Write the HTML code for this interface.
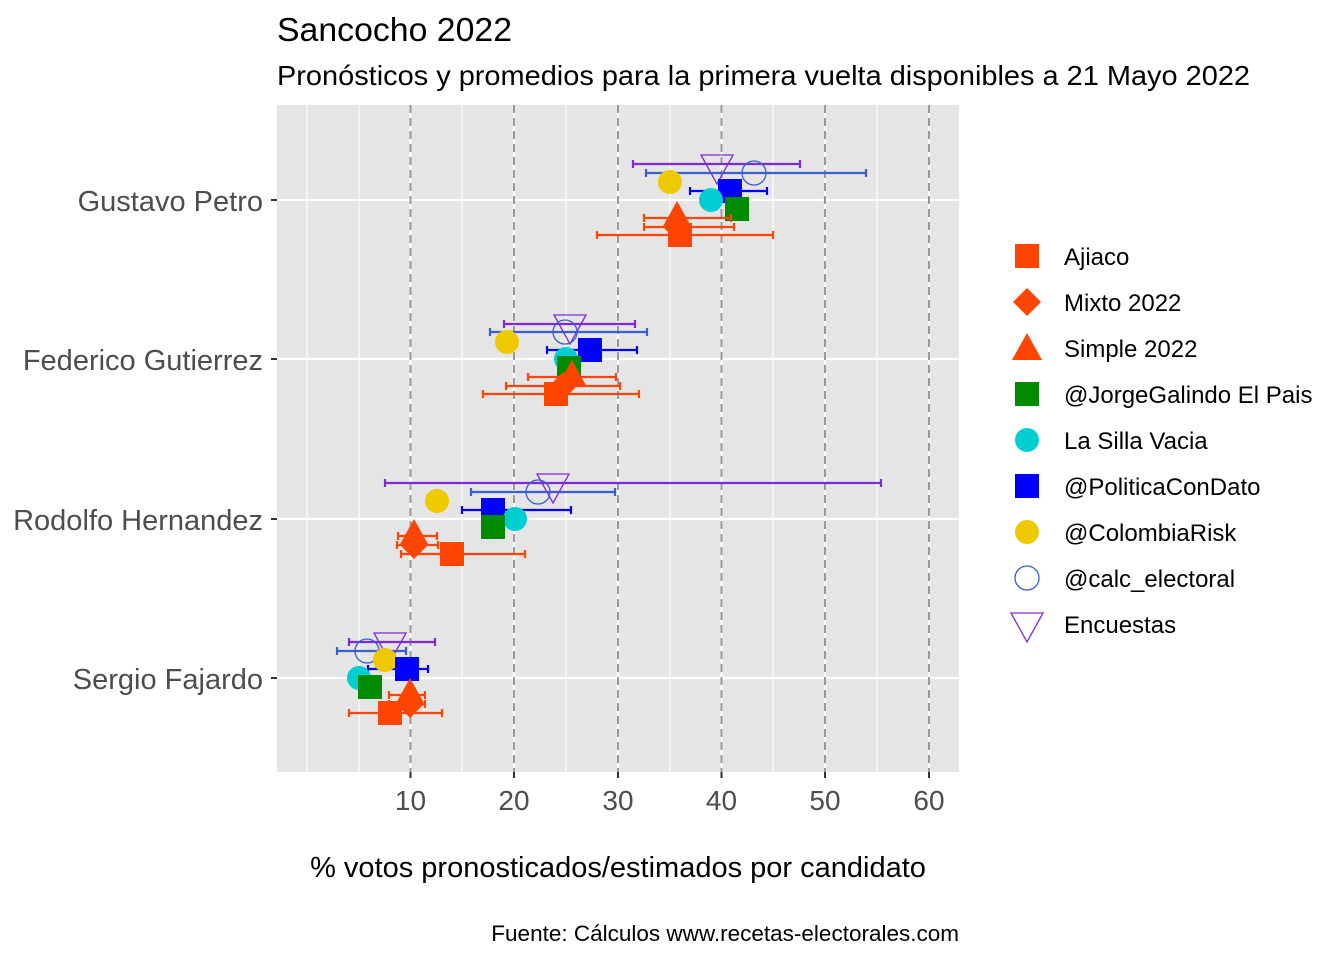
<!DOCTYPE html>
<html><head><meta charset="utf-8"><style>
body{margin:0;background:#fff}
svg text{font-family:"Liberation Sans",Arial,sans-serif}
</style></head><body>
<svg width="1344" height="960" xmlns="http://www.w3.org/2000/svg">
<defs>
<g id="sq"><rect x="-12" y="-12" width="24" height="24"/></g>
<g id="tri"><polygon points="0,-17 15,10 -15,10"/></g>
<g id="dia"><polygon points="0,-14 14,0 0,14 -14,0"/></g>
<g id="dtri"><polygon points="-16,-9 16,-9 0,20" fill="none" stroke="#7F2BD5" stroke-width="1.3"/></g>
</defs>
<text x="277" y="41" font-size="33" textLength="235" lengthAdjust="spacingAndGlyphs">Sancocho 2022</text>
<text x="277" y="85" font-size="28" textLength="973" lengthAdjust="spacingAndGlyphs">Pronósticos y promedios para la primera vuelta disponibles a 21 Mayo 2022</text>
<rect x="277" y="105" width="682" height="667" fill="#e5e5e5"/>
<g stroke="#fff" stroke-width="1.2">
<line x1="307" y1="105" x2="307" y2="772"/><line x1="359" y1="105" x2="359" y2="772"/>
<line x1="462" y1="105" x2="462" y2="772"/><line x1="566" y1="105" x2="566" y2="772"/>
<line x1="670" y1="105" x2="670" y2="772"/><line x1="773" y1="105" x2="773" y2="772"/>
<line x1="877" y1="105" x2="877" y2="772"/>
</g>
<g stroke="#fff" stroke-width="2.2">
<line x1="410.5" y1="105" x2="410.5" y2="772"/><line x1="514" y1="105" x2="514" y2="772"/>
<line x1="618" y1="105" x2="618" y2="772"/><line x1="721.5" y1="105" x2="721.5" y2="772"/>
<line x1="825" y1="105" x2="825" y2="772"/><line x1="929" y1="105" x2="929" y2="772"/>
<line x1="277" y1="200" x2="959" y2="200"/><line x1="277" y1="359" x2="959" y2="359"/>
<line x1="277" y1="519" x2="959" y2="519"/><line x1="277" y1="678" x2="959" y2="678"/>
</g>
<g stroke="#999" stroke-width="2" stroke-dasharray="8,5">
<line x1="410.5" y1="105" x2="410.5" y2="772"/><line x1="514" y1="105" x2="514" y2="772"/>
<line x1="618" y1="105" x2="618" y2="772"/><line x1="721.5" y1="105" x2="721.5" y2="772"/>
<line x1="825" y1="105" x2="825" y2="772"/><line x1="929" y1="105" x2="929" y2="772"/>
</g>
<g stroke="#333" stroke-width="2">
<line x1="271" y1="200" x2="277" y2="200"/><line x1="271" y1="359" x2="277" y2="359"/>
<line x1="271" y1="519" x2="277" y2="519"/><line x1="271" y1="678" x2="277" y2="678"/>
<line x1="410.5" y1="772" x2="410.5" y2="778"/><line x1="514" y1="772" x2="514" y2="778"/>
<line x1="618" y1="772" x2="618" y2="778"/><line x1="721.5" y1="772" x2="721.5" y2="778"/>
<line x1="825" y1="772" x2="825" y2="778"/><line x1="929" y1="772" x2="929" y2="778"/>
</g>
<g font-size="29" fill="#4d4d4d" text-anchor="end">
<text x="263" y="211">Gustavo Petro</text><text x="263" y="370">Federico Gutierrez</text>
<text x="263" y="530">Rodolfo Hernandez</text><text x="263" y="689">Sergio Fajardo</text>
</g>
<g font-size="28" fill="#4d4d4d" text-anchor="middle">
<text x="410.5" y="810">10</text><text x="514" y="810">20</text><text x="618" y="810">30</text>
<text x="721.5" y="810">40</text><text x="825" y="810">50</text><text x="929" y="810">60</text>
</g>
<text x="618" y="877" font-size="29" text-anchor="middle">% votos pronosticados/estimados por candidato</text>
<text x="959" y="941" font-size="22.5" text-anchor="end">Fuente: Cálculos www.recetas-electorales.com</text>

<g stroke-width="2.2">
<path d="M633,164H800M633,160V168M800,160V168" stroke="#7F2BD5"/>
<path d="M646,173H866M646,169V177M866,169V177" stroke="#3A5FCD"/>
<path d="M690,191H767M690,187V195M767,187V195" stroke="#0000FF"/>
<path d="M504,324H635M504,320V328M635,320V328" stroke="#7F2BD5"/>
<path d="M490,332H647M490,328V336M647,328V336" stroke="#3A5FCD"/>
<path d="M547,350H637M547,346V354M637,346V354" stroke="#0000FF"/>
<path d="M385,483H881M385,479V487M881,479V487" stroke="#7F2BD5"/>
<path d="M471,492H615M471,488V496M615,488V496" stroke="#3A5FCD"/>
<path d="M462,510H571M462,506V514M571,506V514" stroke="#0000FF"/>
<path d="M349,642H435M349,638V646M435,638V646" stroke="#7F2BD5"/>
<path d="M337,651H406M337,647V655M406,647V655" stroke="#3A5FCD"/>
<path d="M368,669H428M368,665V673M428,665V673" stroke="#0000FF"/>
</g>

<use href="#dtri" x="717" y="164"/>
<circle cx="754" cy="173" r="12" fill="none" stroke="#3A5FCD" stroke-width="1.3"/>
<circle cx="670" cy="182" r="12" fill="#EEC900"/>
<use href="#sq" x="730" y="191" fill="#0000FF"/>
<circle cx="711" cy="200" r="12" fill="#00CED1"/>
<use href="#sq" x="737" y="209" fill="#008B00"/>
<use href="#tri" x="677" y="218" fill="#FF4500"/>
<use href="#dia" x="677" y="227" fill="#FF4500"/>
<use href="#sq" x="680" y="235" fill="#FF4500"/>
<use href="#dtri" x="570" y="324"/>
<circle cx="565" cy="332" r="12" fill="none" stroke="#3A5FCD" stroke-width="1.3"/>
<circle cx="507" cy="342" r="12" fill="#EEC900"/>
<use href="#sq" x="590" y="350" fill="#0000FF"/>
<circle cx="566" cy="359" r="12" fill="#00CED1"/>
<use href="#sq" x="569" y="368" fill="#008B00"/>
<use href="#tri" x="572" y="377" fill="#FF4500"/>
<use href="#dia" x="563" y="386" fill="#FF4500"/>
<use href="#sq" x="556" y="394" fill="#FF4500"/>
<use href="#dtri" x="553" y="483"/>
<circle cx="538" cy="492" r="12" fill="none" stroke="#3A5FCD" stroke-width="1.3"/>
<circle cx="437" cy="501" r="12" fill="#EEC900"/>
<use href="#sq" x="493" y="510" fill="#0000FF"/>
<circle cx="515" cy="519" r="12" fill="#00CED1"/>
<use href="#sq" x="493" y="527" fill="#008B00"/>
<use href="#tri" x="414" y="536" fill="#FF4500"/>
<use href="#dia" x="414" y="545" fill="#FF4500"/>
<use href="#sq" x="452" y="554" fill="#FF4500"/>
<use href="#dtri" x="390" y="642"/>
<circle cx="367" cy="651" r="12" fill="none" stroke="#3A5FCD" stroke-width="1.3"/>
<circle cx="385" cy="660" r="12" fill="#EEC900"/>
<use href="#sq" x="407" y="669" fill="#0000FF"/>
<circle cx="359" cy="678" r="12" fill="#00CED1"/>
<use href="#sq" x="370" y="687" fill="#008B00"/>
<use href="#tri" x="410" y="695" fill="#FF4500"/>
<use href="#dia" x="410" y="704" fill="#FF4500"/>
<use href="#sq" x="390" y="713" fill="#FF4500"/>

<g stroke="#FF4500" stroke-width="2.2">
<path d="M644,218H731M644,214V222M731,214V222"/>
<path d="M644,227H734M644,223V231M734,223V231"/>
<path d="M597,235H773M597,231V239M773,231V239"/>
<path d="M528,377H616M528,373V381M616,373V381"/>
<path d="M506,386H620M506,382V390M620,382V390"/>
<path d="M483,394H639M483,390V398M639,390V398"/>
<path d="M398,536H437M398,532V540M437,532V540"/>
<path d="M397,545H438M397,541V549M438,541V549"/>
<path d="M401,554H525M401,550V558M525,550V558"/>
<path d="M389,695H425M389,691V699M425,691V699"/>
<path d="M389,704H425M389,700V708M425,700V708"/>
<path d="M349,713H442M349,709V717M442,709V717"/>
</g>

<use href="#sq" x="1027" y="256" fill="#FF4500"/>
<use href="#dia" x="1027" y="302" fill="#FF4500"/>
<use href="#tri" x="1027" y="350" fill="#FF4500"/>
<use href="#sq" x="1027" y="394" fill="#008B00"/>
<circle cx="1027" cy="440" r="12" fill="#00CED1"/>
<use href="#sq" x="1027" y="486" fill="#0000FF"/>
<circle cx="1027" cy="532" r="12" fill="#EEC900"/>
<circle cx="1027" cy="578" r="12" fill="none" stroke="#3A5FCD" stroke-width="1.3"/>
<use href="#dtri" x="1027" y="622"/>
<g font-size="24">
<text x="1064" y="265">Ajiaco</text><text x="1064" y="311">Mixto 2022</text>
<text x="1064" y="357">Simple 2022</text><text x="1064" y="403">@JorgeGalindo El Pais</text>
<text x="1064" y="449">La Silla Vacia</text><text x="1064" y="495">@PoliticaConDato</text>
<text x="1064" y="541">@ColombiaRisk</text><text x="1064" y="587">@calc_electoral</text>
<text x="1064" y="633">Encuestas</text>
</g>
</svg>
</body></html>
